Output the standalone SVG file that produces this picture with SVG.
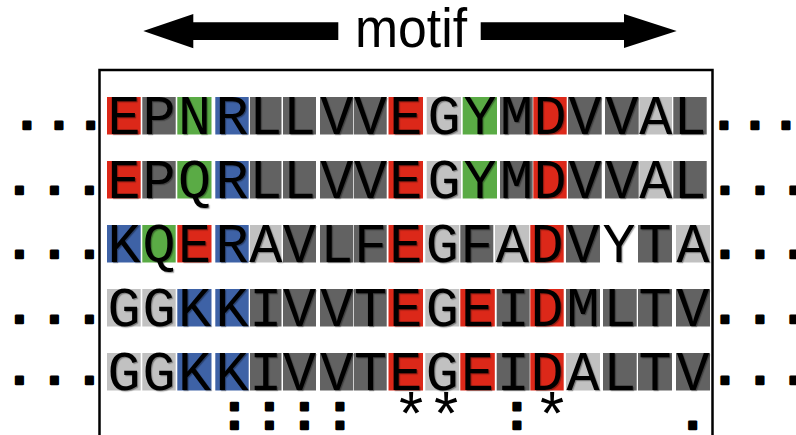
<svg xmlns="http://www.w3.org/2000/svg" width="796" height="435" viewBox="0 0 796 435">
<style>
.r{fill:#dc2819}.d{fill:#626262}.l{fill:#c1c1c1}.g{fill:#5aab45}.b{fill:#3e62a6}
.aa{font-family:"Liberation Mono","DejaVu Sans Mono",monospace;font-size:55px;fill:#000;text-anchor:middle}
.dot{font-family:"Liberation Mono","DejaVu Sans Mono",monospace;font-weight:bold;font-size:48px;fill:#000;stroke:#000;stroke-width:2.4px;stroke-linejoin:round;text-anchor:middle}
.star{font-family:"Liberation Mono","DejaVu Sans Mono",monospace;font-size:62px;fill:#000;text-anchor:middle}
</style>
<defs>
<filter id="sh" x="-5%" y="-10%" width="110%" height="125%">
<feDropShadow dx="1.2" dy="1.2" stdDeviation="0.5" flood-color="#000" flood-opacity="0.35"/>
</filter>
</defs>
<rect width="796" height="435" fill="#fff"/>
<g id="motif-label">
<polygon points="143.3,31 193.3,14 193.3,22.3 338.3,22.3 338.3,40 193.3,40 193.3,48.3" fill="#000"/>
<polygon points="480.7,22.3 624,22.3 624,14 676.7,31 624,48 624,40 480.7,40" fill="#000"/>
<text x="355" y="47" font-family="Liberation Sans, Arial, sans-serif" font-size="56" textLength="112" lengthAdjust="spacingAndGlyphs" fill="#000">motif</text>
</g>
<g id="motif-box">
<path d="M99.5,436 V70 H712.5 V436" fill="none" stroke="#000" stroke-width="2.5"/>
</g>
<g id="row1">
<rect class="r" x="107" y="97" width="33.7" height="37.5"/><rect class="d" x="142.3" y="97" width="33.4" height="37.5"/><rect class="g" x="177.3" y="97" width="34.2" height="37.5"/><rect class="b" x="215.3" y="97" width="33.4" height="37.5"/><rect class="d" x="250" y="97" width="31.5" height="37.5"/><rect class="d" x="283" y="97" width="33" height="37.5"/><rect class="d" x="320" y="97" width="33.3" height="37.5"/><rect class="d" x="354" y="97" width="32.7" height="37.5"/><rect class="r" x="388.5" y="97" width="34.5" height="37.5"/><rect class="l" x="426.7" y="97" width="34.3" height="37.5"/><rect class="g" x="462.7" y="97" width="34.3" height="37.5"/><rect class="d" x="500" y="97" width="32.7" height="37.5"/><rect class="r" x="533.3" y="97" width="33.4" height="37.5"/><rect class="d" x="568" y="97" width="33.7" height="37.5"/><rect class="d" x="605" y="97" width="33.7" height="37.5"/><rect class="l" x="639.3" y="97" width="32.7" height="37.5"/><rect class="d" x="673.3" y="97" width="33.4" height="37.5"/>
<text class="aa" filter="url(#sh)" y="134" x="123.9 159 194.4 232 265.8 299.5 336.7 370.4 405.8 443.9 479.9 516.4 550 584.9 621.9 655.7 690">EPNRLLVVEGYMDVVAL</text>
</g>
<g id="row2">
<rect class="r" x="107" y="161" width="33.7" height="37.5"/><rect class="d" x="142.3" y="161" width="33.4" height="37.5"/><rect class="g" x="177.3" y="161" width="34.2" height="37.5"/><rect class="b" x="215.3" y="161" width="33.4" height="37.5"/><rect class="d" x="250" y="161" width="31.5" height="37.5"/><rect class="d" x="283" y="161" width="33" height="37.5"/><rect class="d" x="320" y="161" width="33.3" height="37.5"/><rect class="d" x="354" y="161" width="32.7" height="37.5"/><rect class="r" x="388.5" y="161" width="34.5" height="37.5"/><rect class="l" x="426.7" y="161" width="34.3" height="37.5"/><rect class="g" x="462.7" y="161" width="34.3" height="37.5"/><rect class="d" x="500" y="161" width="32.7" height="37.5"/><rect class="r" x="533.3" y="161" width="33.4" height="37.5"/><rect class="d" x="568" y="161" width="33.7" height="37.5"/><rect class="d" x="605" y="161" width="33.7" height="37.5"/><rect class="l" x="639.3" y="161" width="32.7" height="37.5"/><rect class="d" x="673.3" y="161" width="33.4" height="37.5"/>
<text class="aa" filter="url(#sh)" y="198" x="123.9 159 194.4 232 265.8 299.5 336.7 370.4 405.8 443.9 479.9 516.4 550 584.9 621.9 655.7 690">EPQRLLVVEGYMDVVAL</text>
</g>
<g id="row3">
<rect class="b" x="107" y="225" width="33.7" height="37.5"/><rect class="g" x="142.3" y="225" width="33.4" height="37.5"/><rect class="r" x="177.3" y="225" width="34.2" height="37.5"/><rect class="b" x="215.3" y="225" width="33.4" height="37.5"/><rect class="l" x="250" y="225" width="31.5" height="37.5"/><rect class="d" x="283" y="225" width="33" height="37.5"/><rect class="d" x="320" y="225" width="33.3" height="37.5"/><rect class="d" x="354" y="225" width="32.7" height="37.5"/><rect class="r" x="388.5" y="225" width="34.5" height="37.5"/><rect class="l" x="425.3" y="225" width="34" height="37.5"/><rect class="d" x="460.3" y="225" width="33" height="37.5"/><rect class="l" x="495" y="225" width="34.3" height="37.5"/><rect class="r" x="530.3" y="225" width="33.4" height="37.5"/><rect class="d" x="566" y="225" width="34" height="37.5"/><rect class="d" x="638" y="225" width="34" height="37.5"/><rect class="l" x="676" y="225" width="34" height="37.5"/>
<text class="aa" filter="url(#sh)" y="262" x="123.9 159 194.4 232 265.8 299.5 336.7 370.4 405.8 442.3 476.8 512.2 547 583 619 655 693">KQERAVLFEGFADVYTA</text>
</g>
<g id="row4">
<rect class="l" x="107" y="289" width="33.7" height="37.5"/><rect class="l" x="142.3" y="289" width="33.4" height="37.5"/><rect class="b" x="177.3" y="289" width="34.2" height="37.5"/><rect class="b" x="215.3" y="289" width="33.4" height="37.5"/><rect class="d" x="250" y="289" width="31.5" height="37.5"/><rect class="d" x="283" y="289" width="33" height="37.5"/><rect class="d" x="320" y="289" width="33.3" height="37.5"/><rect class="d" x="354" y="289" width="32.7" height="37.5"/><rect class="r" x="388.5" y="289" width="34.5" height="37.5"/><rect class="l" x="425.3" y="289" width="34" height="37.5"/><rect class="r" x="460.3" y="289" width="34.5" height="37.5"/><rect class="d" x="496.7" y="289" width="33" height="37.5"/><rect class="r" x="530.3" y="289" width="33.4" height="37.5"/><rect class="d" x="566" y="289" width="34" height="37.5"/><rect class="d" x="603" y="289" width="33.7" height="37.5"/><rect class="d" x="638" y="289" width="34" height="37.5"/><rect class="d" x="676" y="289" width="34" height="37.5"/>
<text class="aa" filter="url(#sh)" y="326" x="123.9 159 194.4 232 265.8 299.5 336.7 370.4 405.8 442.3 477.5 513.2 547 583 619.8 655 693">GGKKIVVTEGEIDMLTV</text>
</g>
<g id="row5">
<rect class="l" x="107" y="353" width="33.7" height="37.5"/><rect class="l" x="142.3" y="353" width="33.4" height="37.5"/><rect class="b" x="177.3" y="353" width="34.2" height="37.5"/><rect class="b" x="215.3" y="353" width="33.4" height="37.5"/><rect class="d" x="250" y="353" width="31.5" height="37.5"/><rect class="d" x="283" y="353" width="33" height="37.5"/><rect class="d" x="320" y="353" width="33.3" height="37.5"/><rect class="d" x="354" y="353" width="32.7" height="37.5"/><rect class="r" x="388.5" y="353" width="34.5" height="37.5"/><rect class="l" x="425.3" y="353" width="34" height="37.5"/><rect class="r" x="460.3" y="353" width="34.5" height="37.5"/><rect class="d" x="496.7" y="353" width="33" height="37.5"/><rect class="r" x="530.3" y="353" width="33.4" height="37.5"/><rect class="l" x="566" y="353" width="34" height="37.5"/><rect class="d" x="603" y="353" width="33.7" height="37.5"/><rect class="d" x="638" y="353" width="34" height="37.5"/><rect class="d" x="676" y="353" width="34" height="37.5"/>
<text class="aa" filter="url(#sh)" y="390" x="123.9 159 194.4 232 265.8 299.5 336.7 370.4 405.8 442.3 477.5 513.2 547 583 619.8 655 693">GGKKIVVTEGEIDALTV</text>
</g>
<g id="ellipses">
<text class="dot" y="129" x="27 59 90.7">...</text>
<text class="dot" y="129" x="724 755 786">...</text>
<text class="dot" y="194" x="19.3 54.3 89.3">...</text>
<text class="dot" y="194" x="725 760 794">...</text>
<text class="dot" y="258" x="19.3 54.3 89.3">...</text>
<text class="dot" y="258" x="725 760 794">...</text>
<text class="dot" y="323" x="19.3 54.3 89.3">...</text>
<text class="dot" y="323" x="725 760 794">...</text>
<text class="dot" y="384" x="19.3 54.3 89.3">...</text>
<text class="dot" y="384" x="725 760 794">...</text>
</g>
<g id="conservation">
<text class="dot" y="429" x="234.3 269.3 304.3 340">::::</text>
<text class="star" y="436" x="411 446">**</text>
<text class="dot" y="429" x="517">:</text>
<text class="star" y="436" x="552">*</text>
<text class="dot" y="429" x="692.7">.</text>
</g>
</svg>
